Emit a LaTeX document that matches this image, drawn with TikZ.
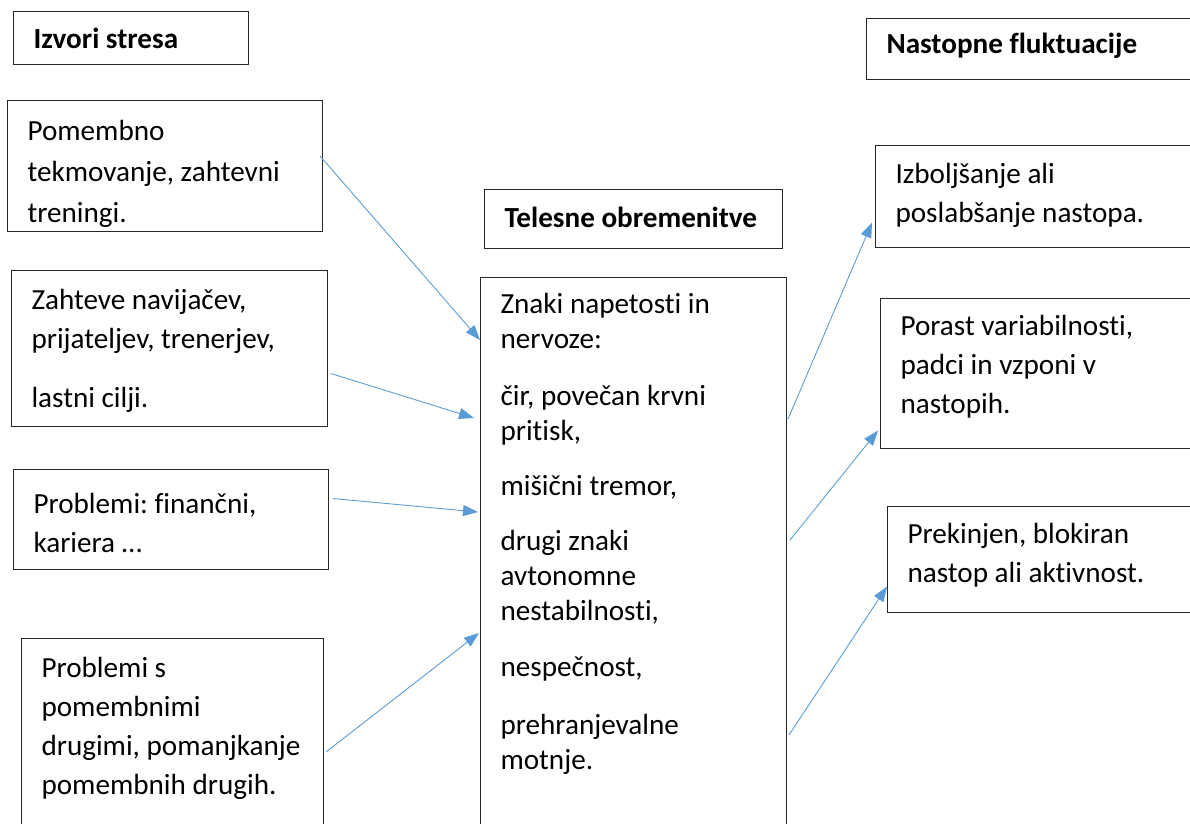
\documentclass[tikz,border=0pt]{standalone}
\usepackage{fontspec}
\setmainfont{Carlito}[Ligatures=CommonOff]
\frenchspacing
\usetikzlibrary{arrows.meta,calc}
\definecolor{strblue}{HTML}{5B9BD5}
\definecolor{strline}{HTML}{262626}
\tikzset{
  box/.style={draw=strline,line width=0.6pt,anchor=north west,align=left,
              inner xsep=0.4cm,inner ysep=0pt,font=\fontsize{16.6}{22.2}\selectfont,
              execute at begin node={\spaceskip=0pt\xspaceskip=0pt}},
  head/.style={box,font=\fontsize{16.6}{22.2}\selectfont\bfseries},
  arr/.style={-{Triangle[length=0.3cm,width=0.22cm]},strblue,line width=0.5pt},
}
\begin{document}
\begin{tikzpicture}[x=0.02cm,y=-0.02cm]
  \path[use as bounding box,clip] (0,0) rectangle (1190,823);
  % headings
  \node[head,text width=3.9cm,text height=0.74cm,text depth=0.32cm] (head1) at (13,11) {Izvori stresa};
  \node[head,text width=5.16cm,text height=0.76cm,text depth=0.42cm] (head2) at (484,189) {Telesne obremenitve};
  \node[head,text width=6.28cm,text height=0.70cm,text depth=0.52cm] (head3) at (866,18) {Nastopne fluktuacije};
  % sources of stress
  \node[box,font=\fontsize{16.6}{23.3}\selectfont,text width=5.5cm,text height=0.8cm,text depth=1.82cm] (srcA) at (7,100)
    {Pomembno\\tekmovanje, zahtevni\\treningi.};
  \node[box,text width=5.52cm,text height=0.78cm,text depth=2.34cm] (srcB) at (11,270)
    {Zahteve navijačev,\\prijateljev, trenerjev,\\[0.4cm]lastni cilji.};
  \node[box,text width=5.5cm,text height=0.88cm,text depth=1.12cm] (srcC) at (13,469)
    {Problemi: finančni,\\kariera …};
  \node[box,text width=5.24cm,text height=0.78cm,text depth=3.66cm] (srcD) at (21,638)
    {Problemi s\\pomembnimi\\drugimi, pomanjkanje\\pomembnih drugih.};
  % physical load
  \node[box,font=\fontsize{16.6}{19.9}\selectfont,text width=5.32cm,text height=0.72cm,text depth=10.94cm] (body) at (480,277)
    {Znaki napetosti in\\nervoze:\\[0.45cm]čir, povečan krvni\\pritisk,\\[0.4cm]mišični tremor,\\[0.4cm]drugi znaki\\avtonomne\\nestabilnosti,\\[0.42cm]nespečnost,\\[0.45cm]prehranjevalne\\motnje.};
  % performance fluctuations
  \node[box,text width=6.1cm,text height=0.76cm,text depth=1.28cm] (fluA) at (875,145)
    {Izboljšanje ali\\poslabšanje nastopa.};
  \node[box,text width=6.0cm,text height=0.74cm,text depth=2.26cm] (fluB) at (880,298)
    {Porast variabilnosti,\\padci in vzponi v\\nastopih.};
  \node[box,text width=5.86cm,text height=0.74cm,text depth=1.38cm] (fluC) at (887,506)
    {Prekinjen, blokiran\\nastop ali aktivnost.};
  % arrows
  \draw[arr] ($(srcA.east)+(-3,-10)$) -- ($(body.north west)+(0,63)$);
  \draw[arr] ($(srcB.east)+(3,25)$) -- ($(body.north west)+(-6,141)$);
  \draw[arr] ($(srcC.east)+(4,-21)$) -- ($(body.north west)+(-2,235)$);
  \draw[arr] ($(srcD.north east)+(2,114)$) -- ($(body.north west)+(-1,356)$);
  \draw[arr] ($(body.north east)+(1,142)$) -- ($(fluA.west)+(-3,26)$);
  \draw[arr] ($(body.north east)+(3,263)$) -- ($(fluB.west)+(-2,57)$);
  \draw[arr] ($(body.north east)+(2,458)$) -- ($(fluC.west)+(0,27)$);
\end{tikzpicture}
\end{document}
